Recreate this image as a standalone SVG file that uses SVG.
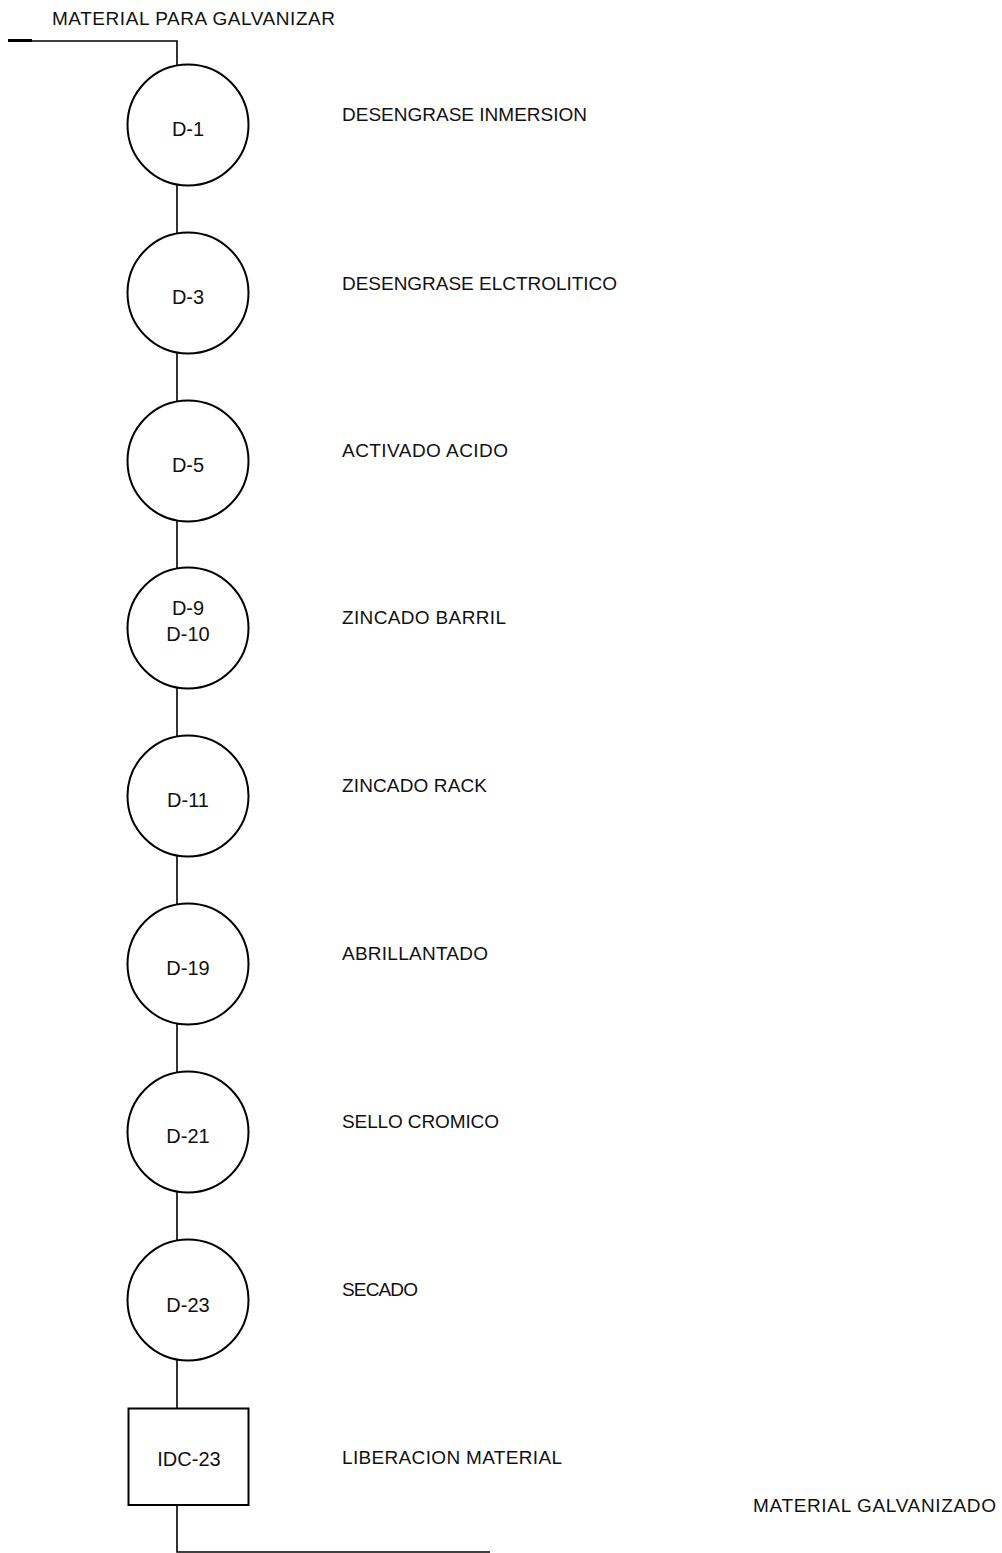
<svg xmlns="http://www.w3.org/2000/svg" width="1002" height="1553" viewBox="0 0 1002 1553">
<style>
.ln{fill:none;stroke:#000;stroke-width:1.6}
.nd{fill:#fff;stroke:#000;stroke-width:2}
text{font-family:"Liberation Sans",Arial,sans-serif;font-size:19px;fill:#111}
.c{text-anchor:middle;font-size:20px}
</style>
<rect width="1002" height="1553" fill="#fff"/>
<g id="connectors">
<path class="ln" d="M8,41 H177 V1552 H490"/>
<path d="M8,40.5 H32" stroke="#000" stroke-width="3"/>
</g>
<text x="52" y="25" textLength="283">MATERIAL PARA GALVANIZAR</text>
<g id="D-1"><circle class="nd" cx="188" cy="125" r="60.5"/><text class="c" x="188" y="136">D-1</text><text x="342" y="121" textLength="245">DESENGRASE INMERSION</text></g>
<g id="D-3"><circle class="nd" cx="188" cy="293" r="60.5"/><text class="c" x="188" y="304">D-3</text><text x="342" y="290" textLength="275">DESENGRASE ELCTROLITICO</text></g>
<g id="D-5"><circle class="nd" cx="188" cy="461" r="60.5"/><text class="c" x="188" y="472">D-5</text><text x="342" y="457" textLength="166">ACTIVADO ACIDO</text></g>
<g id="D-9"><circle class="nd" cx="188" cy="628" r="60.5"/><text class="c" x="188" y="615">D-9</text><text class="c" x="188" y="641">D-10</text><text x="342" y="624" textLength="164">ZINCADO BARRIL</text></g>
<g id="D-11"><circle class="nd" cx="188" cy="796" r="60.5"/><text class="c" x="188" y="807">D-11</text><text x="342" y="792" textLength="145">ZINCADO RACK</text></g>
<g id="D-19"><circle class="nd" cx="188" cy="964" r="60.5"/><text class="c" x="188" y="975">D-19</text><text x="342" y="960" textLength="146">ABRILLANTADO</text></g>
<g id="D-21"><circle class="nd" cx="188" cy="1132" r="60.5"/><text class="c" x="188" y="1143">D-21</text><text x="342" y="1128" textLength="157">SELLO CROMICO</text></g>
<g id="D-23"><circle class="nd" cx="188" cy="1300" r="60.5"/><text class="c" x="188" y="1312">D-23</text><text x="342" y="1296" textLength="76">SECADO</text></g>
<g id="IDC-23"><rect class="nd" x="128.5" y="1408.5" width="120" height="96.5"/><text class="c" x="189" y="1466">IDC-23</text><text x="342" y="1464" textLength="220">LIBERACION MATERIAL</text></g>
<text x="753" y="1512" textLength="243">MATERIAL GALVANIZADO</text>
</svg>
